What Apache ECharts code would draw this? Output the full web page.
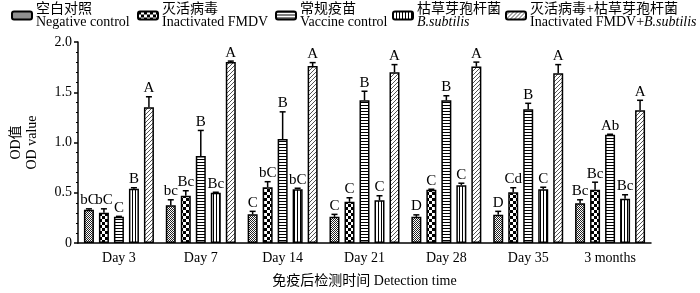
<!DOCTYPE html>
<html>
<head>
<meta charset="utf-8">
<script src="https://cdn.jsdelivr.net/npm/echarts@6.0.0/dist/echarts.min.js"></script>
<style>
  html, body { margin: 0; padding: 0; background: #fff; }
  #main { width: 700px; height: 293px; }
</style>
</head>
<body>
<div id="main"></div>
<script>
// 检测时间
const categories = ['Day 3', 'Day 7', 'Day 14', 'Day 21', 'Day 28', 'Day 35', '3 months'];

// 各组 OD 均值与标准差
const negMean = [0.33, 0.375, 0.285, 0.26, 0.26, 0.28, 0.395];
const negSd = [0.01, 0.055, 0.03, 0.025, 0.02, 0.035, 0.035];
const negSig = ['bC', 'bc', 'C', 'C', 'D', 'D', 'Bc'];

const inactMean = [0.30, 0.47, 0.555, 0.41, 0.53, 0.505, 0.53];
const inactSd = [0.04, 0.05, 0.055, 0.04, 0.005, 0.045, 0.075];
const inactSig = ['bC', 'Bc', 'bC', 'C', 'C', 'Cd', 'Bc'];

const vaccMean = [0.26, 0.865, 1.035, 1.42, 1.42, 1.33, 1.077];
const vaccSd = [0.005, 0.255, 0.27, 0.09, 0.045, 0.06, 0.005];
const vaccSig = ['C', 'B', 'B', 'B', 'B', 'B', 'Ab'];

const bsubMean = [0.54, 0.50, 0.535, 0.425, 0.575, 0.535, 0.44];
const bsubSd = [0.01, 0.005, 0.01, 0.045, 0.02, 0.02, 0.04];
const bsubSig = ['B', 'Bc', 'bC', 'C', 'C', 'C', 'Bc'];

const comboMean = [1.35, 1.80, 1.76, 1.70, 1.755, 1.69, 1.32];
const comboSd = [0.105, 0.01, 0.035, 0.075, 0.045, 0.085, 0.10];
const comboSig = ['A', 'A', 'A', 'A', 'A', 'A', 'A'];

const yTicks = [0, 0.5, 1.0, 1.5, 2.0];

const FONT = '"Liberation Serif", "Noto Sans CJK SC", serif';

// 填充纹理
function makePattern(w, h, draw) {
  const c = document.createElement('canvas');
  c.width = w; c.height = h;
  const ctx = c.getContext('2d');
  ctx.fillStyle = '#fff';
  ctx.fillRect(0, 0, w, h);
  draw(ctx);
  return { image: c, repeat: 'repeat' };
}
const patNeg = makePattern(2, 2, ctx => {
  ctx.fillStyle = '#222';
  ctx.fillRect(0, 0, 1, 1); ctx.fillRect(1, 1, 1, 1);
});
const patInact = makePattern(6, 6, ctx => {
  ctx.fillStyle = '#000';
  ctx.fillRect(0, 0, 3, 3); ctx.fillRect(3, 3, 3, 3);
});
const patVacc = makePattern(3, 3, ctx => {
  ctx.fillStyle = '#000';
  ctx.fillRect(0, 0, 3, 1);
});
const patBsub = makePattern(3, 3, ctx => {
  ctx.fillStyle = '#000';
  ctx.fillRect(0, 0, 1, 3);
});
const patCombo = makePattern(4, 4, ctx => {
  ctx.fillStyle = '#555';
  for (let i = 0; i < 4; i++) ctx.fillRect(i, 3 - i, 1, 1);
});

const groups = [
  { name: 'neg', mean: negMean, sd: negSd, sig: negSig, pat: patNeg,
    label: '{cn|空白对照}\n{en|Negative control}', left: 11 },
  { name: 'inact', mean: inactMean, sd: inactSd, sig: inactSig, pat: patInact,
    label: '{cn|灭活病毒}\n{en|Inactivated FMDV}', left: 137 },
  { name: 'vacc', mean: vaccMean, sd: vaccSd, sig: vaccSig, pat: patVacc,
    label: '{cn|常规疫苗}\n{en|Vaccine control}', left: 275 },
  { name: 'bsub', mean: bsubMean, sd: bsubSd, sig: bsubSig, pat: patBsub,
    label: '{cn|枯草芽孢杆菌}\n{it|B.subtilis}', left: 392 },
  { name: 'combo', mean: comboMean, sd: comboSd, sig: comboSig, pat: patCombo,
    label: '{cn|灭活病毒+枯草芽孢杆菌}\n{en|Inactivated FMDV+}{it|B.subtilis}', left: 505 }
];

const BAR_W = 10;
const BAR_PITCH = 15;

const richText = {
  cn: { fontFamily: FONT, fontSize: 14, lineHeight: 13, color: '#000' },
  en: { fontFamily: FONT, fontSize: 14, lineHeight: 13, color: '#000' },
  it: { fontFamily: FONT, fontSize: 14, lineHeight: 13, color: '#000', fontStyle: 'italic' }
};

const series = [];
groups.forEach((g, gi) => {
  series.push({
    name: g.name,
    type: 'bar',
    barWidth: BAR_W,
    barGap: '50%',
    data: g.mean,
    itemStyle: { color: g.pat, borderColor: '#000', borderWidth: 1.5 },
    z: 2
  });
  const off = (gi - 2) * BAR_PITCH;
  series.push({
    type: 'custom',
    name: g.name + '_err',
    data: g.mean.map((m, i) => [i, m, m + g.sd[i]]),
    z: 3,
    renderItem: (params, api) => {
      const base = api.coord([api.value(0), api.value(1)]);
      const top = api.coord([api.value(0), api.value(2)]);
      const x = base[0] + off;
      return {
        type: 'group',
        children: [
          { type: 'line', shape: { x1: x, y1: base[1], x2: x, y2: top[1] },
            style: { stroke: '#000', lineWidth: 1.5 } },
          { type: 'line', shape: { x1: x - 3, y1: top[1], x2: x + 3, y2: top[1] },
            style: { stroke: '#000', lineWidth: 1.5 } },
          { type: 'text', x: x, y: top[1] - 1,
            style: { text: g.sig[params.dataIndex], fill: '#000', font: '15px ' + FONT,
              textAlign: 'center', textVerticalAlign: 'bottom' } }
        ]
      };
    }
  });
});

const chart = echarts.init(document.getElementById('main'), null, { renderer: 'canvas' });
chart.setOption({
  animation: false,
  backgroundColor: '#fff',
  legend: groups.map(g => ({
    data: [g.name],
    left: g.left,
    top: 2,
    padding: 0,
    itemWidth: 20,
    itemHeight: 8,
    itemGap: 0,
    formatter: () => g.label,
    textStyle: { rich: richText, padding: [0, 0, 0, -1] }
  })),
  grid: { left: 64, right: 49, top: 42, bottom: 47 },
  xAxis: {
    type: 'category',
    data: categories,
    name: '免疫后检测时间 Detection time',
    nameLocation: 'middle',
    nameGap: 31,
    nameTextStyle: { fontFamily: FONT, fontSize: 14, color: '#000' },
    axisLine: { lineStyle: { color: '#000', width: 1.5 } },
    axisTick: { alignWithLabel: true, length: 4, lineStyle: { color: '#000', width: 1.5 } },
    axisLabel: { fontFamily: FONT, fontSize: 14, color: '#000', margin: 8 }
  },
  yAxis: {
    type: 'value',
    min: yTicks[0],
    max: yTicks[yTicks.length - 1],
    interval: 0.5,
    name: 'OD值\nOD value',
    nameLocation: 'middle',
    nameRotate: 90,
    nameGap: 38,
    nameTextStyle: { fontFamily: FONT, fontSize: 14, color: '#000', lineHeight: 16 },
    axisLine: { show: true, lineStyle: { color: '#000', width: 1.5 } },
    axisTick: { show: true, length: 4, lineStyle: { color: '#000', width: 1.5 } },
    minorTick: { show: true, splitNumber: 5, length: 2, lineStyle: { color: '#000', width: 1 } },
    splitLine: { show: false },
    axisLabel: {
      fontFamily: FONT, fontSize: 14, color: '#000', margin: 6,
      formatter: v => (v === 0 ? '0' : v.toFixed(1))
    }
  },
  series: series
});
</script>
</body>
</html>
